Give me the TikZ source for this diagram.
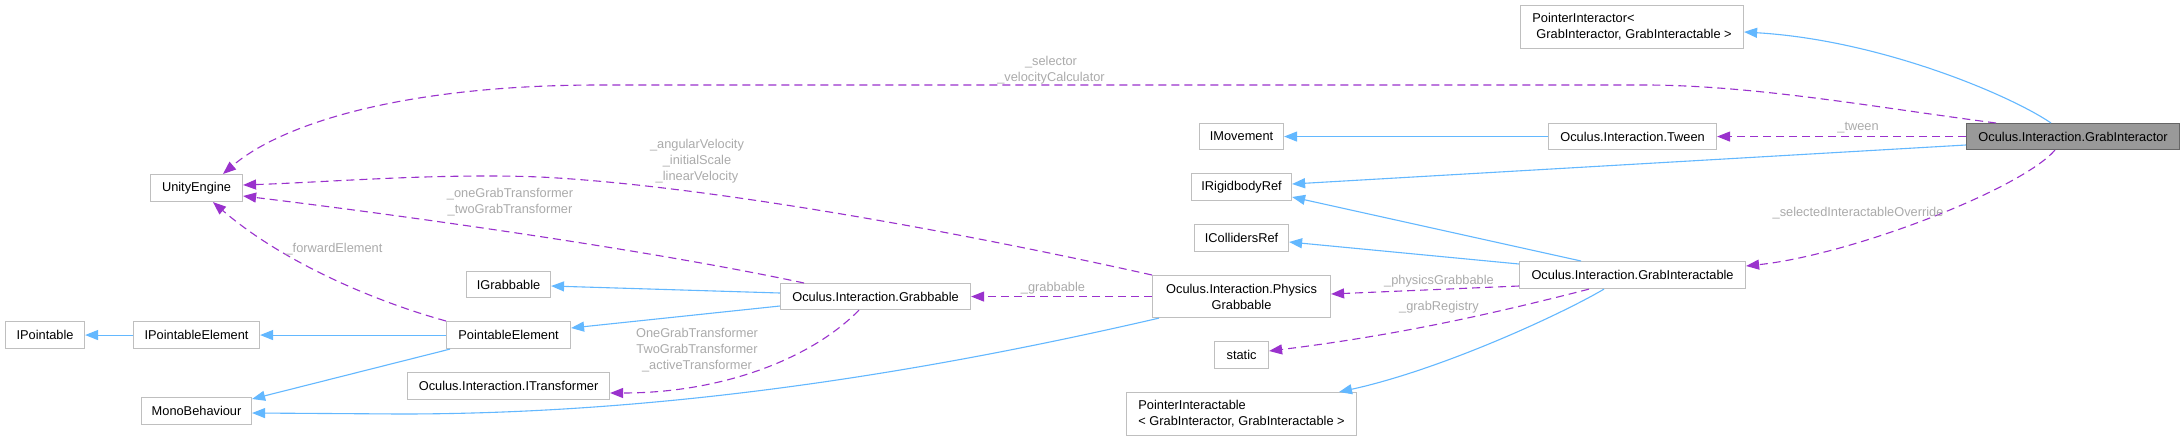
\documentclass[tikz,border=0pt]{standalone}
\usepackage{fontspec}
\setmainfont{Liberation Sans}
\usetikzlibrary{arrows.meta,calc}
\definecolor{boxgray}{HTML}{BFBFBF}
\definecolor{inhblue}{HTML}{63B8FF}
\definecolor{usepurple}{HTML}{9A32CD}
\definecolor{lblgray}{HTML}{ABABAB}
\definecolor{mainfill}{HTML}{999999}
\definecolor{mainborder}{HTML}{666666}
\newcommand{\dfont}{\fontsize{12.8pt}{16pt}\selectfont}
\tikzset{
  cls/.style={draw=boxgray, line width=1.1pt, fill=white, inner sep=0pt, anchor=north west, font=\dfont, align=center, text=black},
  mainbox/.style={cls, draw=mainborder, fill=mainfill},
  inh/.style={draw=inhblue, line width=1.1pt, -{Triangle[length=13pt,width=10pt]}},
  use/.style={draw=usepurple, line width=1.1pt, dash pattern=on 8pt off 5pt, -{Triangle[length=13pt,width=10pt]}},
  lbl/.style={font=\dfont, text=lblgray, align=center, inner sep=0pt},
}
\begin{document}
\begin{tikzpicture}[x=1pt,y=-1pt]
\fill[white] (0,0) rectangle (2184,440);
\useasboundingbox (0,0) rectangle (2184,440);

% nodes
\node[mainbox, minimum width=213pt, minimum height=26pt] (GI) at (1966,123) {Oculus.Interaction.GrabInteractor};
\node[cls, minimum width=223pt, minimum height=43pt, align=left] (PIr) at (1520,5) {PointerInteractor<\\\hspace{4pt}GrabInteractor, GrabInteractable >};
\node[cls, minimum width=92pt, minimum height=27pt] (UE) at (150,174) {UnityEngine};
\node[cls, minimum width=168pt, minimum height=26pt] (Tw) at (1548,123) {Oculus.Interaction.Tween};
\node[cls, minimum width=84pt, minimum height=26pt] (IM) at (1199,123) {IMovement};
\node[cls, minimum width=100pt, minimum height=27pt] (IRB) at (1191,173) {IRigidbodyRef};
\node[cls, minimum width=94pt, minimum height=27pt] (ICR) at (1194,224) {ICollidersRef};
\node[cls, minimum width=226pt, minimum height=27pt] (GIa) at (1519,261) {Oculus.Interaction.GrabInteractable};
\node[cls, minimum width=178pt, minimum height=42pt] (PG) at (1152,275) {Oculus.Interaction.Physics\\Grabbable};
\node[cls, minimum width=54pt, minimum height=27pt] (St) at (1214,341) {static};
\node[cls, minimum width=230pt, minimum height=43pt, align=left] (PIa) at (1126,392) {PointerInteractable\\< GrabInteractor, GrabInteractable >};
\node[cls, minimum width=190pt, minimum height=26pt] (Gb) at (780,283) {Oculus.Interaction.Grabbable};
\node[cls, minimum width=84pt, minimum height=26pt] (IG) at (466,271) {IGrabbable};
\node[cls, minimum width=124pt, minimum height=27pt] (PE) at (446,321) {PointableElement};
\node[cls, minimum width=202pt, minimum height=27pt] (IT) at (407,372) {Oculus.Interaction.ITransformer};
\node[cls, minimum width=126pt, minimum height=27pt] (IPE) at (133,321) {IPointableElement};
\node[cls, minimum width=79pt, minimum height=27pt] (IP) at (5,321) {IPointable};
\node[cls, minimum width=110pt, minimum height=27pt] (MB) at (141,397) {MonoBehaviour};

% edges
\draw[inh] ($(GI.north west)+(85,0)$) .. controls (2010,95) and (1880,40) .. ($(PIr.north east)+(0,27)$);
\draw[use] ($(GI.north west)+(30,0)$) .. controls (1880,108) and (1760,86) .. (1650,85) -- (600,85) .. controls (400,85) and (280,125) .. ($(UE.north west)+(73,0)$);
\node[lbl] (Lsel) at (1051,70) {\_selector\\\_velocityCalculator};
\draw[use] (GI.west) -- (Tw.east);
\node[lbl] (Ltw) at (1858,128) {\_tween};
\draw[inh] (Tw.west) -- (IM.east);
\draw[inh] ($(GI.north west)+(0,22)$) -- ($(IRB.north east)+(0,11)$);
\draw[inh] ($(GIa.north west)+(62,0)$) -- ($(IRB.north east)+(0,24)$);
\draw[inh] ($(GIa.north west)+(0,3)$) -- ($(ICR.north east)+(0,18)$);
\draw[use] ($(GI.south west)+(89,0)$) .. controls (2020,190) and (1850,255) .. ($(GIa.north east)+(0,5)$);
\node[lbl] (Lsio) at (1858,213) {\_selectedInteractableOverride};
\draw[use] ($(GIa.north west)+(0,25)$) -- ($(PG.north east)+(0,19)$);
\node[lbl] (Lpg) at (1439,281) {\_physicsGrabbable};
\draw[use] ($(GIa.south west)+(70,0)$) .. controls (1500,312) and (1400,335) .. ($(St.north east)+(0,10)$);
\node[lbl] (Lgr) at (1439,307) {\_grabRegistry};
\draw[inh] ($(GIa.south west)+(85,0)$) .. controls (1560,315) and (1440,370) .. ($(PIa.north west)+(213,0)$);
\draw[use] (PG.north west) .. controls (950,230) and (700,185) .. (540,177) .. controls (440,173) and (330,182) .. ($(UE.north east)+(0,11)$);
\node[lbl] (Lav) at (697,161) {\_angularVelocity\\\_initialScale\\\_linearVelocity};
\draw[use] ($(Gb.north west)+(24,0)$) .. controls (650,250) and (400,215) .. ($(UE.north east)+(0,22)$);
\node[lbl] (Log) at (510,202) {\_oneGrabTransformer\\\_twoGrabTransformer};
\draw[use] (PE.north west) .. controls (370,300) and (280,260) .. ($(UE.south west)+(63,0)$);
\node[lbl] (Lfe) at (334,249) {\_forwardElement};
\draw[use] (PG.west) -- (Gb.east);
\node[lbl] (Lgb) at (1053,288) {\_grabbable};
\draw[inh] ($(Gb.north west)+(0,10)$) -- ($(IG.north east)+(0,15)$);
\draw[inh] ($(Gb.north west)+(0,23)$) -- ($(PE.north east)+(0,7)$);
\draw[use] ($(Gb.south west)+(79,0)$) .. controls (810,360) and (720,393) .. ($(IT.north east)+(0,21)$);
\node[lbl] (Lot) at (697,350) {OneGrabTransformer\\TwoGrabTransformer\\\_activeTransformer};
\draw[inh] (PE.west) -- (IPE.east);
\draw[inh] (IPE.west) -- (IP.east);
\draw[inh] ($(PE.south west)+(4,0)$) -- ($(MB.north east)+(0,2)$);
\draw[inh] ($(PG.south west)+(7,0)$) .. controls (900,378) and (650,414) .. (400,414) -- ($(MB.north east)+(0,16)$);
\end{tikzpicture}
\end{document}
